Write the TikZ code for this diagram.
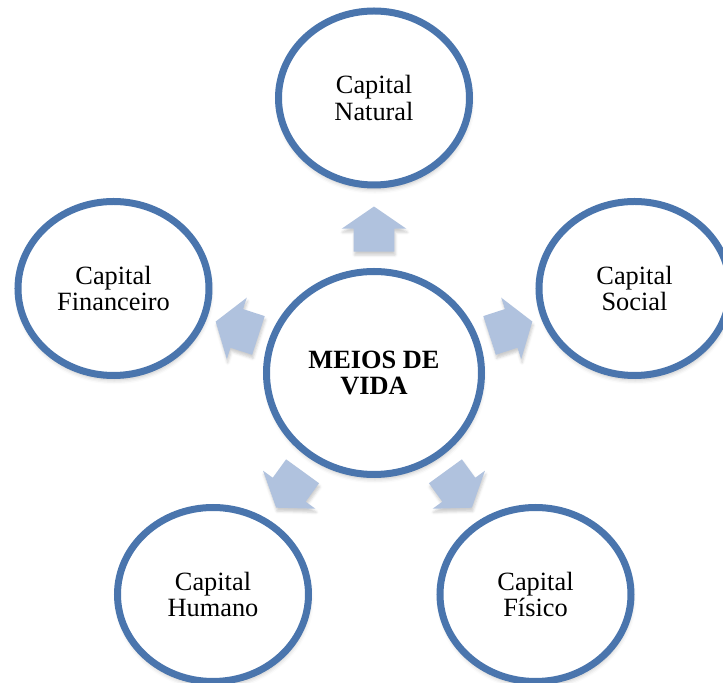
\documentclass[tikz,border=0pt]{standalone}
\usepackage{fontspec}
\setmainfont{Liberation Serif}
\usetikzlibrary{shapes.geometric,shapes.arrows,shadows.blur}
\definecolor{ringblue}{RGB}{74,117,173}
\definecolor{arrowblue}{RGB}{176,194,222}
\tikzset{
  ring/.style={shape=ellipse,draw=ringblue,fill=white,line width=0.14cm,inner sep=0pt,align=center,
    font=\fontsize{15}{15.3}\selectfont,
    blur shadow={shadow xshift=0.5pt,shadow yshift=-2.5pt,shadow opacity=25,shadow blur radius=2.5pt}},
  capital/.style={ring,minimum width=3.82cm,minimum height=3.48cm},
  blockarrow/.style={shape=single arrow,fill=arrowblue,inner xsep=0pt,inner ysep=0.4cm,minimum height=0.9cm,
    single arrow head extend=0.24cm,single arrow tip angle=111,
    blur shadow={shadow xshift=0.5pt,shadow yshift=-2pt,shadow opacity=20,shadow blur radius=1.5pt}}
}

\begin{document}
\begin{tikzpicture}
\useasboundingbox (-7.48,-6.20) rectangle (6.98,7.46);
\node[ring,minimum width=4.3cm,minimum height=4.06cm,font=\bfseries\fontsize{15}{15.3}\selectfont] (MV) at (0,0) {MEIOS DE\\VIDA};
\node[capital] (CN) at (0,5.5) {Capital\\Natural};
\node[capital] (CS) at (5.21,1.69) {Capital\\Social};
\node[capital] (CF) at (3.23,-4.43) {Capital\\Físico};
\node[capital] (CH) at (-3.22,-4.43) {Capital\\Humano};
\node[capital] (CFi) at (-5.21,1.69) {Capital\\Financeiro};

\node[blockarrow,rotate=90] (aN) at (90:2.74) {};
\node[blockarrow,rotate=18] (aS) at (18:2.74) {};
\node[blockarrow,rotate=-54] (aF) at (-54:2.74) {};
\node[blockarrow,rotate=234] (aH) at (234:2.74) {};
\node[blockarrow,rotate=162] (aFi) at (162:2.74) {};
\end{tikzpicture}
\end{document}
